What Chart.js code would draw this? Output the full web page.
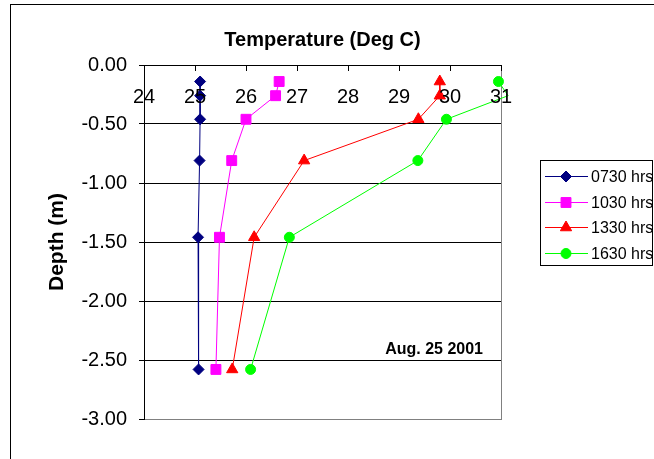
<!DOCTYPE html>
<html>
<head>
<meta charset="utf-8">
<script src="https://cdn.jsdelivr.net/npm/chart.js@4.4.1/dist/chart.umd.min.js"></script>
<style>
  html, body { margin: 0; padding: 0; background: #ffffff; }
  #wrap { position: relative; width: 654px; height: 459px; overflow: hidden; }
  canvas { display: block; }
</style>
</head>
<body>
<div id="wrap"><canvas id="chart" width="654" height="459"></canvas></div>
<script>
// Sampling depths (m, negative downward) shared by every profile
const depths = [-0.14, -0.26, -0.46, -0.81, -1.46, -2.58];

// Temperature profiles (deg C), one per observation time
const seriesNames = ['0730 hrs', '1030 hrs', '1330 hrs', '1630 hrs'];
const temp0730 = [25.10, 25.10, 25.10, 25.09, 25.06, 25.07];
const temp1030 = [26.65, 26.58, 26.00, 25.72, 25.48, 25.41];
const temp1330 = [29.80, 29.80, 29.38, 27.14, 26.16, 25.73];
const temp1630 = [30.95, 31.14, 29.93, 29.37, 26.85, 26.09];

// Axis ranges and labels
const tempMin = 24, tempMax = 31, tempStep = 1;
const depthMin = -3, depthMax = 0, depthStep = 0.5;
const xTitle = 'Temperature (Deg C)';
const yTitle = 'Depth (m)';
const noteText = 'Aug. 25 2001';

const FONT = '"Liberation Sans", Arial, Helvetica, sans-serif';

const seriesStyles = [
  { color: '#000080', pointStyle: 'rectRot', radius: 5.5 },
  { color: '#FF00FF', pointStyle: 'rect', radius: 7 },
  { color: '#FF0000', pointStyle: 'triangle', radius: 6.5 },
  { color: '#00FF00', pointStyle: 'circle', radius: 5 }
];

const profiles = [temp0730, temp1030, temp1330, temp1630];

const datasets = profiles.map((temps, i) => {
  const st = seriesStyles[i];
  return {
    label: seriesNames[i],
    data: temps.map((t, k) => ({ x: t, y: depths[k] })),
    borderColor: st.color,
    backgroundColor: st.color,
    pointBackgroundColor: st.color,
    pointBorderColor: st.color,
    pointStyle: st.pointStyle,
    // markers outside the temperature range are not shown, only the line reaches them
    pointRadius: ctx => (ctx.raw && ctx.raw.x > tempMax) ? 0 : st.radius,
    pointBorderWidth: 1,
    borderWidth: 1,
    tension: 0,
    order: -i,
    clip: { left: 0, top: 0, right: 8, bottom: 0 }
  };
});

// Frame, plot-area edge, inner temperature labels, legend box and the date note
const decorPlugin = {
  id: 'decor',
  beforeDraw(chart) {
    const ctx = chart.ctx;
    ctx.save();
    ctx.fillStyle = '#ffffff';
    ctx.fillRect(0, 0, chart.width, chart.height);
    ctx.strokeStyle = '#000000';
    ctx.lineWidth = 1;
    ctx.strokeRect(10.5, 4.5, chart.width + 20, chart.height + 20);
    ctx.restore();
  },
  beforeDatasetsDraw(chart) {
    const ctx = chart.ctx;
    const a = chart.chartArea;
    ctx.save();
    ctx.strokeStyle = '#808080';
    ctx.lineWidth = 1;
    const xr = Math.round(a.right) + 0.5;
    ctx.beginPath();
    ctx.moveTo(xr, Math.round(a.top));
    ctx.lineTo(xr, Math.round(a.bottom) + 1);
    ctx.stroke();
    ctx.restore();
  },
  afterDatasetsDraw(chart) {
    // temperature tick marks point into the plot, their labels sit just below the top axis
    const ctx = chart.ctx;
    const a = chart.chartArea;
    const xs = chart.scales.x;
    ctx.save();
    ctx.strokeStyle = '#000000';
    ctx.lineWidth = 1;
    ctx.fillStyle = '#000000';
    ctx.font = '20px ' + FONT;
    ctx.textAlign = 'center';
    ctx.textBaseline = 'alphabetic';
    xs.ticks.forEach(t => {
      const px = xs.getPixelForValue(t.value);
      const xx = Math.round(px) + 0.5;
      ctx.beginPath();
      ctx.moveTo(xx, Math.round(a.top));
      ctx.lineTo(xx, Math.round(a.top) + 6);
      ctx.stroke();
      ctx.fillText(t.label != null ? String(t.label) : String(t.value), px, a.top + 38);
    });
    ctx.restore();
  },
  afterDraw(chart) {
    const ctx = chart.ctx;
    const a = chart.chartArea;
    ctx.save();

    // date note inside the plot
    ctx.fillStyle = '#000000';
    ctx.font = 'bold 16px ' + FONT;
    ctx.textAlign = 'right';
    ctx.textBaseline = 'alphabetic';
    ctx.fillText(noteText, a.right - 18, a.top + 289);

    // legend
    const box = { x: 540.5, y: 160.5, w: 112, h: 105 };
    ctx.strokeStyle = '#000000';
    ctx.lineWidth = 1;
    ctx.strokeRect(box.x, box.y, box.w, box.h);
    const rowY0 = 176, rowGap = 25.6;
    ctx.font = '16px ' + FONT;
    ctx.textAlign = 'left';
    ctx.textBaseline = 'middle';
    chart.data.datasets.forEach((ds, i) => {
      const st = seriesStyles[i];
      const y = Math.round(rowY0 + i * rowGap) + 0.5;
      ctx.strokeStyle = st.color;
      ctx.lineWidth = 1;
      ctx.beginPath();
      ctx.moveTo(545, y);
      ctx.lineTo(588, y);
      ctx.stroke();
      ctx.fillStyle = st.color;
      Chart.helpers.drawPoint(ctx, {
        pointStyle: st.pointStyle, radius: st.radius, borderWidth: 1, rotation: 0
      }, 566, y);
      ctx.fillStyle = '#000000';
      ctx.fillText(ds.label, 591, y + 1);
    });
    ctx.restore();
  }
};

new Chart(document.getElementById('chart'), {
  type: 'line',
  data: { datasets },
  plugins: [decorPlugin],
  options: {
    responsive: false,
    animation: false,
    events: [],
    layout: { padding: { top: 0, left: 0, right: 153, bottom: 40 } },
    plugins: { legend: { display: false }, tooltip: { enabled: false }, title: { display: false } },
    scales: {
      x: {
        type: 'linear',
        position: 'top',
        min: tempMin,
        max: tempMax,
        afterFit: s => { s.height = 65; },
        ticks: {
          display: false,
          stepSize: tempStep,
          autoSkip: false,
          maxRotation: 0,
          minRotation: 0,
          color: '#000000',
          font: { family: FONT, size: 20 }
        },
        grid: { display: false },
        border: { display: true, color: '#000000', width: 1 },
        title: {
          display: true,
          text: xTitle,
          color: '#000000',
          font: { family: FONT, size: 20, weight: 'bold' },
          padding: { top: 28, bottom: 0 }
        }
      },
      y: {
        type: 'linear',
        position: 'left',
        min: depthMin,
        max: depthMax,
        afterFit: s => { s.width = 144; },
        ticks: {
          stepSize: depthStep,
          padding: 12,
          color: '#000000',
          font: { family: FONT, size: 20 },
          callback: v => Number(v).toFixed(2)
        },
        grid: {
          color: ctx => (ctx.tick && ctx.tick.value === depthMin) ? '#808080' : '#000000',
          tickColor: '#000000',
          tickLength: 5,
          lineWidth: 1
        },
        border: { color: '#000000', width: 1 },
        title: {
          display: true,
          text: yTitle,
          color: '#000000',
          font: { family: FONT, size: 21, weight: 'bold' },
          padding: { top: 45, bottom: 0 }
        }
      }
    }
  }
});
</script>
</body>
</html>
